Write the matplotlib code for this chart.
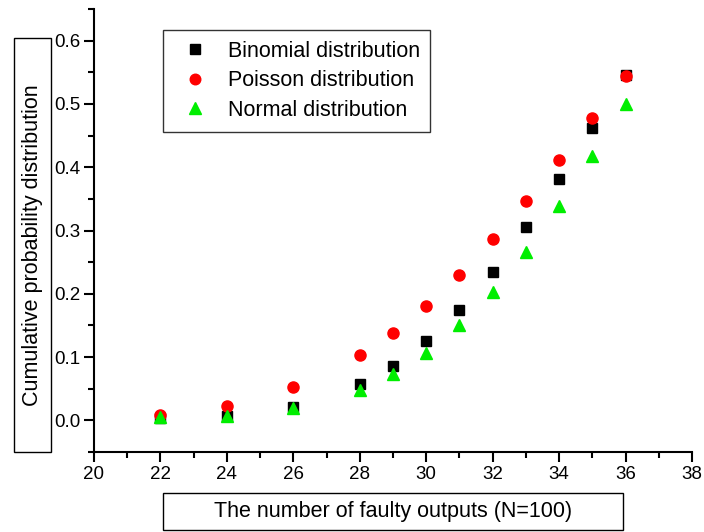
import matplotlib
matplotlib.use("Agg")
import matplotlib.pyplot as plt
from matplotlib.patches import Rectangle
from matplotlib.ticker import MultipleLocator

plt.rcParams['font.family'] = ['Liberation Sans', 'DejaVu Sans']

x_vals = [22, 24, 26, 28, 29, 30, 31, 32, 33, 34, 35, 36]
binomial = [0.003, 0.007, 0.021, 0.057, 0.086, 0.126, 0.174, 0.235, 0.305, 0.381, 0.462, 0.546]
poisson = [0.008, 0.022, 0.052, 0.103, 0.138, 0.181, 0.230, 0.287, 0.347, 0.411, 0.478, 0.544]
normal = [0.005, 0.007, 0.019, 0.048, 0.073, 0.106, 0.150, 0.203, 0.266, 0.339, 0.418, 0.500]

W, H = 704, 532
fig = plt.figure(figsize=(W / 100, H / 100), dpi=100)
ax = fig.add_axes([94 / W, (H - 452) / H, (692 - 94) / W, (452 - 9) / H])

ax.plot(x_vals, binomial, linestyle='none', marker='s', color='black', markersize=7, label='Binomial distribution')
ax.plot(x_vals, poisson, linestyle='none', marker='o', color='red', markersize=8, label='Poisson distribution')
ax.plot(x_vals, normal, linestyle='none', marker='^', color='#00ee00', markersize=9, label='Normal distribution')

ax.set_xlim(20, 38)
ax.set_ylim(-0.05, 0.65)
ax.xaxis.set_major_locator(MultipleLocator(2))
ax.xaxis.set_minor_locator(MultipleLocator(1))
ax.yaxis.set_major_locator(MultipleLocator(0.1))
ax.yaxis.set_minor_locator(MultipleLocator(0.05))
ax.yaxis.set_major_formatter(matplotlib.ticker.FormatStrFormatter('%.1f'))

for s in ['top', 'right']:
    ax.spines[s].set_visible(False)
for s in ['left', 'bottom']:
    ax.spines[s].set_linewidth(1.5)
ax.tick_params(which='major', direction='out', length=7, width=1.5, labelsize=13.5, pad=3)
ax.tick_params(which='minor', direction='out', length=4, width=1.5)

leg = ax.legend(loc='upper left', bbox_to_anchor=(163 / W, 1 - 30 / H), bbox_transform=fig.transFigure,
                borderaxespad=0, frameon=True, fancybox=False, fontsize=15.5, handletextpad=0.5,
                borderpad=0.5, labelspacing=0.4, handlelength=2.0, markerscale=0.95)
leg.get_frame().set_edgecolor('black')
leg.get_frame().set_linewidth(1.0)

# y label box
fig.patches.append(Rectangle((14 / W, (H - 452) / H), (51 - 14) / W, (452 - 38) / H,
                             transform=fig.transFigure, fill=False, edgecolor='black', linewidth=1.0))
fig.text(32.5 / W, 1 - 245 / H, 'Cumulative probability distribution', rotation=90,
         ha='center', va='center', fontsize=15.5)

# x label box
fig.patches.append(Rectangle((163 / W, (H - 530) / H), (623 - 163) / W, (530 - 493) / H,
                             transform=fig.transFigure, fill=False, edgecolor='black', linewidth=1.0))
fig.text(393 / W, 1 - 511.5 / H, 'The number of faulty outputs (N=100)', ha='center', va='center', fontsize=15.5)

fig.savefig('out.png', dpi=100)
